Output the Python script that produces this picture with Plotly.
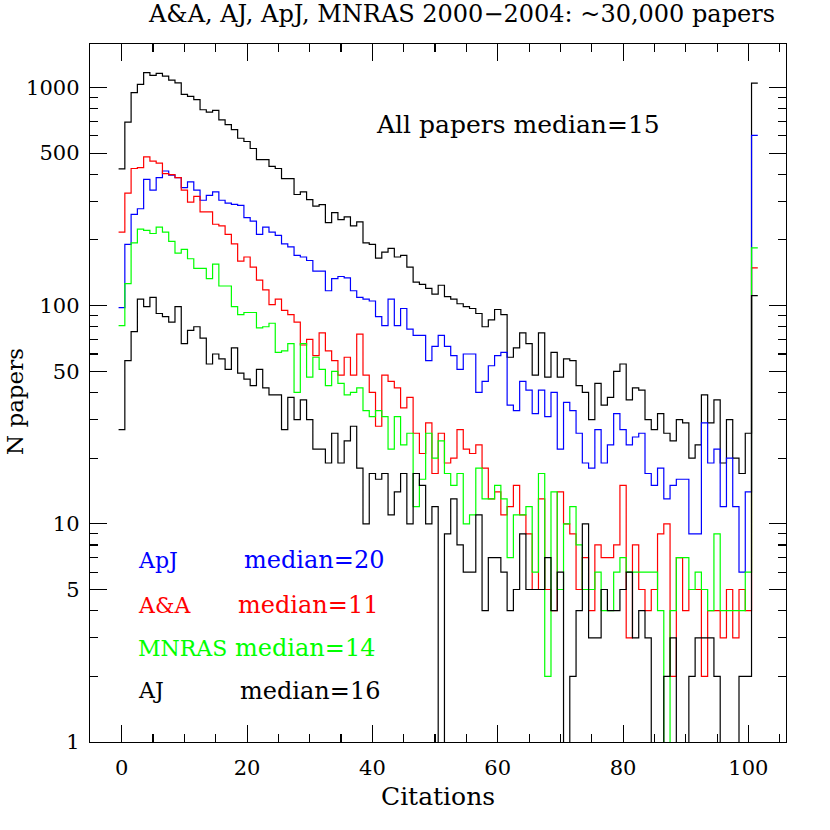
import plotly.graph_objects as go

# citation bins: 0..100, bin 101 = overflow (>100 citations)
citations = list(range(102))

all_papers = [423, 694, 946, 1033, 1170, 1136, 1160, 1126, 1080, 1050,
              930, 910, 880, 790, 770, 785, 710, 675, 640, 585,
              565, 525, 467, 467, 435, 425, 382, 382, 323, 332,
              306, 286, 290, 240, 267, 248, 255, 232, 242, 194,
              191, 165, 176, 183, 167, 170, 150, 128, 125, 120,
              113, 124, 110, 107, 102, 99, 97, 92, 80, 86,
              96, 91, 58, 64, 75, 67, 48, 75, 47, 61,
              47, 57, 56, 43, 40, 30, 44, 35, 38, 50,
              54, 37, 42, 41, 30, 27, 32, 26, 24, 30,
              29, 20, 23, 39, 29, 37, 19, 30, 20, 17,
              26, 1047]

apj = [98, 191, 262, 278, 379, 338, 386, 414, 396, 386,
       347, 369, 338, 304, 320, 332, 304, 295, 291, 288,
       253, 244, 212, 229, 217, 210, 192, 186, 170, 167,
       161, 144, 144, 117, 133, 136, 134, 117, 109, 107,
       105, 89, 81, 107, 81, 97, 78, 73, 73, 56,
       65, 73, 65, 59, 51, 60, 60, 40, 45, 53,
       59, 61, 35, 33, 45, 41, 32, 41, 31, 40,
       22, 36, 33, 26, 19, 18, 27, 19, 23, 32,
       27, 23, 25, 26, 17, 15, 18, 13, 15, 16,
       16, 9, 9, 29, 19, 22, 12, 20, 12, 6,
       14, 603]

aa = [217, 328, 425, 429, 480, 459, 450, 403, 398, 386,
      338, 298, 317, 269, 269, 236, 232, 212, 192, 160,
      167, 150, 131, 118, 101, 107, 95, 91, 84, 66,
      70, 59, 75, 62, 56, 48, 58, 48, 74, 48,
      40, 28, 48, 45, 42, 34, 38, 26, 21, 29,
      17, 26, 19, 20, 27, 22, 21, 23, 18, 13,
      14, 11, 12, 15, 11, 9, 5, 13, 5, 4,
      14, 10, 9, 5, 7, 4, 8, 7, 7, 8,
      15, 3, 8, 5, 4, 5, 9, 10, 2, 7,
      4, 5, 5, 2, 4, 4, 3, 5, 3, 5,
      4, 149]

mnras = [81, 126, 194, 224, 221, 214, 229, 217, 197, 174,
         181, 164, 148, 148, 133, 155, 123, 123, 99, 91,
         93, 93, 79, 80, 83, 61, 62, 67, 40, 67,
         47, 58, 51, 43, 50, 44, 39, 40, 42, 33,
         31, 33, 31, 22, 31, 23, 26, 12, 16, 26,
         20, 24, 17, 15, 17, 10, 11, 18, 13, 13,
         15, 13, 7, 11, 11, 12, 6, 17, 2, 14,
         5, 10, 12, 8, 5, 5, 6, 4, 4, 6,
         7, 6, 6, 6, 6, 6, 4, 0, 4, 7,
         7, 5, 6, 5, 4, 9, 4, 4, 4, 4,
         6, 184]

aj = [27, 56, 76, 107, 99, 109, 92, 89, 84, 99,
      67, 77, 80, 71, 54, 60, 57, 51, 64, 49,
      46, 43, 51, 42, 39, 39, 27, 38, 30, 37,
      30, 22, 22, 19, 26, 19, 24, 28, 18, 10,
      17, 16, 17, 11, 14, 17, 10, 17, 15, 10,
      12, 0, 9, 13, 8, 6, 6, 11, 4, 7,
      7, 6, 4, 5, 9, 5, 5, 5, 7, 4,
      6, 0, 2, 4, 10, 3, 3, 5, 4, 4,
      5, 6, 3, 4, 3, 0, 0, 2, 3, 0,
      0, 2, 3, 3, 3, 2, 0, 0, 0, 2,
      2, 111]

series = [
    ("All", all_papers, "#000000"),
    ("ApJ", apj, "#0000FF"),
    ("A&A", aa, "#FF0000"),
    ("MNRAS", mnras, "#00FF00"),
    ("AJ", aj, "#000000"),
]

legend_rows = [("ApJ", "median=20", "#0000FF"),
               ("A&A", "median=11", "#FF0000"),
               ("MNRAS", "median=14", "#00FF00"),
               ("AJ", "median=16", "#000000")]

x_ticks = [0, 20, 40, 60, 80, 100]
y_ticks = [1, 5, 10, 50, 100, 500, 1000]
y_minor = [m * d for d in (1, 10, 100, 1000) for m in (2, 3, 4, 6, 7, 8, 9)]

FONT = "DejaVu Serif"

# step outline (histogram) edges
edges = [c - 0.5 for c in citations] + [citations[-1] + 0.5]

fig = go.Figure()
for name, vals, col in series:
    assert len(vals) == len(citations), name
    yv = [v if v > 0 else 0.5 for v in vals]  # empty bins drop below the axis
    fig.add_trace(go.Scatter(
        x=edges, y=yv + [yv[-1]], mode="lines", name=name,
        line=dict(color=col, width=1.2, shape="hv"),
        showlegend=False, hoverinfo="skip"))

axis_common = dict(showline=True, linecolor="black", linewidth=1.3,
                   mirror="allticks", ticks="inside", ticklen=17,
                   tickwidth=1.1, tickcolor="black", showgrid=False,
                   zeroline=False, tickfont=dict(family=FONT, size=21, color="black"))

fig.update_xaxes(range=[-5.06, 106.0], tickvals=x_ticks,
                 minor=dict(dtick=5, tick0=0, ticks="inside", ticklen=8,
                            tickwidth=1.1, tickcolor="black", showgrid=False),
                 ticklabelstandoff=6, **axis_common)
fig.update_yaxes(type="log", range=[0, 3.199], tickvals=y_ticks,
                 ticktext=[str(v) for v in y_ticks],
                 minor=dict(tickvals=y_minor, ticks="inside", ticklen=8,
                            tickwidth=1.1, tickcolor="black", showgrid=False),
                 ticklabelstandoff=5, **axis_common)

PW, PH, L, B = 696.0, 698.0, 90.0, 742.0   # plot-area size / position in px


def px(xp, yp):
    return (xp - L) / PW, (B - yp) / PH


ann = []
tx, ty = px(777, 14)
ann.append(dict(text="A&A, AJ, ApJ, MNRAS 2000\u22122004: ~30,000 papers",
                x=tx, y=ty, xanchor="right", yanchor="middle",
                font=dict(size=24)))
tx, ty = px(374, 124)
ann.append(dict(text="All papers median=15", x=tx, y=ty,
                xanchor="left", yanchor="middle", font=dict(size=25)))
tx, ty = px(438, 796)
ann.append(dict(text="Citations", x=tx, y=ty, xanchor="center",
                yanchor="middle", font=dict(size=25)))
tx, ty = px(15, 402)
ann.append(dict(text="N papers", x=tx, y=ty, xanchor="center",
                yanchor="middle", textangle=-90, font=dict(size=23)))

row_y = [560, 605, 648, 690.5]
med_x = [241.7, 235.7, 233.3, 237.7]
for (lab, med, col), py, mx in zip(legend_rows, row_y, med_x):
    lx, ly = px(136, py)
    ann.append(dict(text=lab, x=lx, y=ly, xanchor="left",
                    yanchor="middle", font=dict(size=22, color=col)))
    mxp, _ = px(mx, py)
    ann.append(dict(text=med, x=mxp, y=ly, xanchor="left",
                    yanchor="middle", font=dict(size=24, color=col)))

for a in ann:
    a.update(xref="paper", yref="paper", showarrow=False)
    f = a.get("font", {})
    f.setdefault("family", FONT)
    f.setdefault("color", "black")
    a["font"] = f

fig.update_layout(width=830, height=830,
                  margin=dict(l=90, r=44, t=44, b=88),
                  paper_bgcolor="white", plot_bgcolor="white",
                  font=dict(family=FONT, color="black"),
                  annotations=ann, showlegend=False)

# remove the browser's default 8px page margin so the figure fills the window
fig.write_html("out.html",
               config={"displayModeBar": False, "staticPlot": True},
               post_script="document.body.style.margin='0px';"
                           "document.body.style.overflow='hidden';")
